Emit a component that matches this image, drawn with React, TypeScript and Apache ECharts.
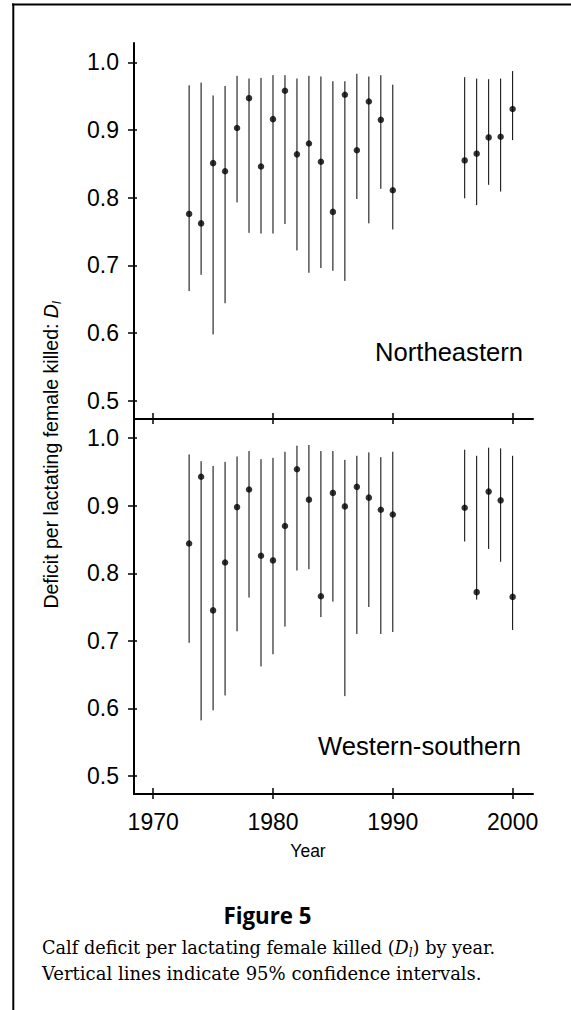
import React, { useEffect, useRef } from "react";
import * as echarts from "echarts";

const years = [1973, 1974, 1975, 1976, 1977, 1978, 1979, 1980, 1981, 1982, 1983, 1984, 1985, 1986, 1987, 1988, 1989, 1990, 1996, 1997, 1998, 1999, 2000];

// Northeastern
const neMean = [0.776, 0.762, 0.851, 0.839, 0.903, 0.947, 0.846, 0.916, 0.958, 0.864, 0.880, 0.853, 0.779, 0.952, 0.870, 0.942, 0.915, 0.811, 0.855, 0.865, 0.889, 0.890, 0.931];
const neLow = [0.662, 0.686, 0.598, 0.644, 0.793, 0.748, 0.747, 0.747, 0.761, 0.722, 0.689, 0.696, 0.692, 0.677, 0.798, 0.762, 0.813, 0.753, 0.799, 0.789, 0.819, 0.809, 0.885];
const neHigh = [0.966, 0.970, 0.951, 0.965, 0.980, 0.976, 0.977, 0.981, 0.981, 0.976, 0.980, 0.979, 0.972, 0.972, 0.983, 0.979, 0.981, 0.967, 0.978, 0.976, 0.975, 0.976, 0.987];

// Western-southern
const wsMean = [0.844, 0.943, 0.745, 0.816, 0.898, 0.924, 0.826, 0.819, 0.870, 0.954, 0.909, 0.766, 0.919, 0.899, 0.928, 0.912, 0.894, 0.887, 0.897, 0.772, 0.921, 0.908, 0.765];
const wsLow = [0.697, 0.582, 0.597, 0.619, 0.714, 0.764, 0.662, 0.680, 0.721, 0.804, 0.806, 0.735, 0.758, 0.618, 0.710, 0.750, 0.710, 0.713, 0.847, 0.761, 0.836, 0.817, 0.716];
const wsHigh = [0.976, 0.966, 0.959, 0.965, 0.973, 0.981, 0.969, 0.971, 0.980, 0.989, 0.990, 0.981, 0.981, 0.968, 0.974, 0.979, 0.972, 0.980, 0.983, 0.974, 0.986, 0.985, 0.974];

const yTicks = [0.5, 0.6, 0.7, 0.8, 0.9, 1.0];
const xTicks = [1970, 1980, 1990, 2000];
const panelNames = ["Northeastern", "Western-southern"];

const Y_MIN = 0.473;
const Y_MAX = 1.0285;
const X_MIN = 1968.4;
const X_MAX = 2001.7;

const FONT = "Liberation Sans";

export default function App() {
  const ref = useRef<HTMLDivElement>(null);

  useEffect(() => {
    if (!ref.current) return;
    const chart = echarts.init(ref.current, undefined, { renderer: "svg" });

    const grids = [
      { left: 134, top: 43, width: 399, height: 376 },
      { left: 134, top: 419, width: 399, height: 375 },
    ];

    const xAxes: any[] = [];
    const yAxes: any[] = [];
    [0, 1].forEach((g) => {
      // primary x axis (ticks outside)
      xAxes.push({
        type: "value",
        gridIndex: g,
        position: "bottom",
        min: X_MIN,
        max: X_MAX,
        axisLine: { show: true, lineStyle: { color: "#000", width: 2 } },
        axisTick: { show: true, inside: false, length: 5, customValues: xTicks, lineStyle: { color: "#000", width: 1.5 } },
        axisLabel: {
          show: g === 1,
          customValues: xTicks,
          margin: 16,
          color: "#000",
          fontFamily: FONT,
          fontSize: 23,
          formatter: (v: number) => String(Math.round(v)),
        },
        splitLine: { show: false },
      });
      // secondary x axis (ticks inside)
      xAxes.push({
        type: "value",
        gridIndex: g,
        position: "bottom",
        offset: 0,
        min: X_MIN,
        max: X_MAX,
        axisLine: { show: false },
        axisTick: { show: true, inside: true, length: 6, customValues: xTicks, lineStyle: { color: "#000", width: 1.5 } },
        axisLabel: { show: false },
        splitLine: { show: false },
      });
      yAxes.push({
        type: "value",
        gridIndex: g,
        position: "left",
        min: Y_MIN,
        max: Y_MAX,
        axisLine: { show: true, lineStyle: { color: "#000", width: 2 } },
        axisTick: { show: true, inside: false, length: 6, customValues: yTicks, lineStyle: { color: "#000", width: 1.5 } },
        axisLabel: {
          show: true,
          customValues: yTicks,
          margin: 15,
          color: "#000",
          fontFamily: FONT,
          fontSize: 23,
          formatter: (v: number) => v.toFixed(1),
        },
        splitLine: { show: false },
      });
      yAxes.push({
        type: "value",
        gridIndex: g,
        position: "left",
        offset: 0,
        min: Y_MIN,
        max: Y_MAX,
        axisLine: { show: false },
        axisTick: { show: true, inside: true, length: 3, customValues: yTicks, lineStyle: { color: "#000", width: 1.5 } },
        axisLabel: { show: false },
        splitLine: { show: false },
      });
    });

    const panels = [
      { mean: neMean, low: neLow, high: neHigh },
      { mean: wsMean, low: wsLow, high: wsHigh },
    ];

    const series: any[] = [];
    panels.forEach((p, g) => {
      series.push({
        type: "custom",
        xAxisIndex: g * 2,
        yAxisIndex: g * 2,
        data: years.map((yr, i) => [yr, p.low[i], p.high[i]]),
        encode: { x: 0, y: [1, 2] },
        renderItem: (params: any, api: any) => {
          const a = api.coord([api.value(0), api.value(1)]);
          const b = api.coord([api.value(0), api.value(2)]);
          return {
            type: "line",
            shape: { x1: a[0], y1: a[1], x2: b[0], y2: b[1] },
            style: { stroke: "#000", lineWidth: 1 },
          };
        },
        silent: true,
      });
      series.push({
        type: "scatter",
        xAxisIndex: g * 2,
        yAxisIndex: g * 2,
        data: years.map((yr, i) => [yr, p.mean[i]]),
        symbol: "circle",
        symbolSize: 6.5,
        itemStyle: { color: "#000" },
        silent: true,
      });
    });

    chart.setOption({
      animation: false,
      grid: grids,
      xAxis: xAxes,
      yAxis: yAxes,
      series,
      graphic: [
        { type: "line", shape: { x1: 12, y1: 4.5, x2: 571, y2: 4.5 }, style: { stroke: "#000", lineWidth: 2 } },
        { type: "line", shape: { x1: 13.3, y1: 3.5, x2: 13.3, y2: 1010 }, style: { stroke: "#000", lineWidth: 2 } },
        {
          type: "text",
          x: 523,
          y: 352,
          style: { text: panelNames[0], textAlign: "right", textVerticalAlign: "middle", fontFamily: FONT, fontSize: 25.6, fill: "#000" },
        },
        {
          type: "text",
          x: 521,
          y: 746,
          style: { text: panelNames[1], textAlign: "right", textVerticalAlign: "middle", fontFamily: FONT, fontSize: 25.6, fill: "#000" },
        },
        {
          type: "text",
          x: 308,
          y: 851,
          style: { text: "Year", textAlign: "center", textVerticalAlign: "middle", fontFamily: FONT, fontSize: 17.5, fill: "#000" },
        },
        {
          type: "text",
          x: 51,
          y: 455,
          rotation: Math.PI / 2,
          style: {
            text: "Deficit per lactating female killed: {i|D}{s|l}",
            textAlign: "center",
            textVerticalAlign: "middle",
            fontFamily: FONT,
            fontSize: 19.5,
            fill: "#000",
            rich: {
              i: { fontFamily: FONT, fontSize: 19.5, fontStyle: "italic", fill: "#000", lineHeight: 24 },
              s: { fontFamily: FONT, fontSize: 12, fontStyle: "italic", fill: "#000", verticalAlign: "bottom", lineHeight: 12 },
            },
          },
        },
        {
          type: "text",
          x: 267.5,
          y: 915,
          style: { text: "Figure 5", textAlign: "center", textVerticalAlign: "middle", fontFamily: "Open Sans", fontWeight: "bold", fontSize: 22.3, fill: "#000" },
        },
        {
          type: "text",
          x: 42,
          y: 948,
          style: {
            text: "Calf deficit per lactating female killed ({i|D}{s|l}) by year.",
            textAlign: "left",
            textVerticalAlign: "middle",
            fontFamily: "DejaVu Serif",
            fontSize: 17.7,
            fill: "#000",
            rich: {
              i: { fontFamily: "DejaVu Serif", fontSize: 17.7, fontStyle: "italic", fill: "#000", lineHeight: 21 },
              s: { fontFamily: "DejaVu Serif", fontSize: 12, fontStyle: "italic", fill: "#000", verticalAlign: "bottom", lineHeight: 12 },
            },
          },
        },
        {
          type: "text",
          x: 42,
          y: 973,
          style: { text: "Vertical lines indicate 95% confidence intervals.", textAlign: "left", textVerticalAlign: "middle", fontFamily: "DejaVu Serif", fontSize: 18, fill: "#000" },
        },
      ],
    });

    return () => chart.dispose();
  }, []);

  return <div ref={ref} style={{ position: "absolute", left: 0, top: 0, width: 571, height: 1010, background: "#fff" }} />;
}
